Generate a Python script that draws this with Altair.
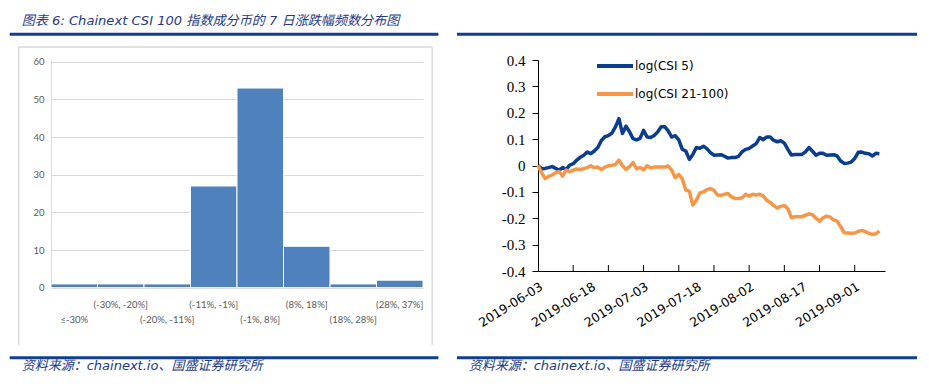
import altair as alt
import pandas as pd

# ---------------- data ----------------
hist_bins = ["≤-30%", "(-30%, -20%]", "(-20%, -11%]", "(-11%, -1%]",
             "(-1%, 8%]", "(8%, 18%]", "(18%, 28%]", "(28%, 37%]"]
hist_counts = [1, 1, 1, 27, 53, 11, 1, 2]
lower_row_bins = ["≤-30%", "(-20%, -11%]", "(-1%, 8%]", "(18%, 28%]"]
hist_ticks = [0, 10, 20, 30, 40, 50, 60]

line_start = "2019-06-03"
series_names = ["log(CSI 5)", "log(CSI 21-100)"]
series_colors = ["#0B3D8F", "#F79646"]
csi5 = [0.0, -0.012, -0.011, -0.008, -0.004, -0.011, -0.017, -0.008, -0.015, 0.001,
        0.007, 0.020, 0.031, 0.039, 0.051, 0.045, 0.055, 0.068, 0.095, 0.109,
        0.113, 0.123, 0.146, 0.178, 0.121, 0.149, 0.128, 0.102, 0.097, 0.103,
        0.133, 0.108, 0.106, 0.114, 0.127, 0.147, 0.147, 0.131, 0.108, 0.113,
        0.097, 0.061, 0.055, 0.023, 0.042, 0.068, 0.065, 0.073, 0.064, 0.049,
        0.039, 0.040, 0.041, 0.035, 0.028, 0.030, 0.030, 0.035, 0.052, 0.061,
        0.065, 0.074, 0.083, 0.106, 0.098, 0.108, 0.108, 0.095, 0.090, 0.094,
        0.085, 0.061, 0.040, 0.042, 0.042, 0.042, 0.052, 0.068, 0.054, 0.039,
        0.046, 0.046, 0.039, 0.040, 0.041, 0.036, 0.017, 0.008, 0.009, 0.013,
        0.027, 0.050, 0.051, 0.046, 0.045, 0.036, 0.046, 0.045]
csi21_100 = [0.0, -0.027, -0.049, -0.042, -0.036, -0.027, -0.023, -0.040, -0.017, -0.023,
             -0.018, -0.013, -0.015, -0.012, -0.008, -0.001, -0.008, -0.006, -0.015, -0.006,
             -0.001, 0.001, 0.004, 0.020, -0.001, -0.015, -0.004, 0.011, -0.012, -0.008,
             -0.016, -0.001, -0.009, -0.006, -0.006, -0.006, -0.006, -0.002, -0.018, -0.046,
             -0.034, -0.051, -0.094, -0.097, -0.150, -0.132, -0.104, -0.100, -0.092, -0.087,
             -0.094, -0.112, -0.113, -0.109, -0.106, -0.119, -0.125, -0.125, -0.122, -0.109,
             -0.116, -0.109, -0.112, -0.109, -0.116, -0.132, -0.140, -0.152, -0.161, -0.155,
             -0.152, -0.164, -0.198, -0.194, -0.194, -0.194, -0.188, -0.183, -0.187, -0.200,
             -0.211, -0.198, -0.192, -0.196, -0.206, -0.211, -0.232, -0.255, -0.256, -0.257,
             -0.256, -0.250, -0.246, -0.251, -0.257, -0.261, -0.259, -0.249]
y_ticks = [-0.4, -0.3, -0.2, -0.1, 0.0, 0.1, 0.2, 0.3, 0.4]
label_days = [0, 15, 30, 45, 60, 75, 90]
tick_days = [10, 20, 30, 40, 50, 60, 70, 80, 90]

title_text = "图表 6:  Chainext CSI 100 指数成分币的 7 日涨跌幅频数分布图"
source_text = "资料来源：chainext.io、国盛证券研究所"

# ---------------- style ----------------
NAVY = "#0D4093"
TEXT_NAVY = "#23398A"
CJK_FONT = "DejaVu Sans, Noto Sans CJK SC"
one = pd.DataFrame({"k": [0]})


def hrule(x1, x2, y, color=NAVY, width=3):
    return alt.Chart(one).mark_rule(color=color, strokeWidth=width).encode(
        x=alt.value(x1), x2=alt.value(x2), y=alt.value(y))


def vrule(x, y1, y2, color="#D9D9D9", width=1.5):
    return alt.Chart(one).mark_rule(color=color, strokeWidth=width).encode(
        x=alt.value(x), y=alt.value(y1), y2=alt.value(y2))


def label(x, y, s, size=13):
    return alt.Chart(one).mark_text(
        align="left", baseline="alphabetic", font=CJK_FONT, fontSize=size,
        fontStyle="italic", color=TEXT_NAVY).encode(
        x=alt.value(x), y=alt.value(y), text=alt.value(s))


# ---------------- left: histogram ----------------
LW, LH = 372, 227.7
hist_df = pd.DataFrame({"bin": hist_bins, "count": hist_counts})
lower_js = "[" + ",".join("'" + b + "'" for b in lower_row_bins) + "]"

bars = alt.Chart(hist_df).mark_bar(color="#4F81BD", stroke="white", strokeWidth=1).encode(
    x=alt.X("bin:N", sort=hist_bins, title=None,
            scale=alt.Scale(paddingInner=0, paddingOuter=0),
            axis=alt.Axis(labelAngle=0, ticks=False, domain=False, labelPadding=12,
                          labelFont="Lato", labelFontSize=9.5, labelColor="#595959",
                          labelOverlap=False, labelBaseline="top", labelLineHeight=14.5,
                          labelExpr="indexof(" + lower_js + ", datum.value) >= 0 ? ['', datum.value] : datum.value")),
    y=alt.Y("count:Q", title=None,
            scale=alt.Scale(domain=[0, 60.45], nice=False),
            axis=alt.Axis(values=hist_ticks, ticks=False, domainColor="#D9D9D9",
                          gridColor="#D9D9D9", labelFont="Lato", labelFontSize=9.5,
                          labelColor="#595959", labelPadding=7)),
)

left = alt.layer(
    hrule(-41, -40, -51, color="white", width=1),
    label(-29.3, -35, title_text, 13.1),
    hrule(-41.3, 387.4, -25.7),
    vrule(-32.3, -13, 285),
    vrule(381.2, -13, 285),
    hrule(-32.3, 381.2, -13, color="#D9D9D9", width=1.5),
    hrule(-41.3, 387.4, 297.8),
    label(-29.3, 310, source_text, 13),
    bars,
).properties(width=LW, height=LH)

# ---------------- right: line chart ----------------
RW, RH = 347, 211
dates = pd.date_range(line_start, periods=len(csi5), freq="D")
date_labels = [d.strftime("%Y-%m-%d") for d in dates]
rows = []
for name, vals in zip(series_names, [csi5, csi21_100]):
    for i, v in enumerate(vals):
        rows.append({"day": i, "date": date_labels[i], "value": v, "series": name})
line_df = pd.DataFrame(rows)

lab_js = "[" + ",".join("'" + date_labels[d] + "'" for d in label_days) + "]"
ylab_expr = ("abs(datum.value) < 1e-9 ? '0' : (datum.value < 0 ? '-' + format(-datum.value, '.1f')"
             " : format(datum.value, '.1f'))")

xscale = alt.Scale(domain=[0, 98.6], nice=False, zero=False)
lines = alt.Chart(line_df).mark_line(strokeWidth=3.5, strokeJoin="round").encode(
    x=alt.X("day:Q", title=None, scale=xscale,
            axis=alt.Axis(values=label_days, ticks=False, grid=False, domainColor="black",
                          labelExpr=lab_js + "[round(datum.value/15)]",
                          labelAngle=-32, labelAlign="right", labelBaseline="top",
                          labelPadding=9, labelFont="DejaVu Sans", labelFontSize=12.5,
                          labelColor="black", labelOverlap=False)),
    y=alt.Y("value:Q", title=None, scale=alt.Scale(domain=[-0.4, 0.4], nice=False),
            axis=alt.Axis(values=y_ticks, grid=False, domainColor="black", tickColor="black",
                          tickSize=6, labelFont="Times New Roman, Liberation Serif, serif",
                          labelFontSize=15, labelColor="black", labelPadding=7,
                          labelExpr=ylab_expr)),
    color=alt.Color("series:N", scale=alt.Scale(domain=series_names, range=series_colors),
                    legend=alt.Legend(orient="none", legendX=57, legendY=-14, title=None,
                                      symbolType="stroke", symbolSize=1296,
                                      symbolStrokeWidth=4, labelFont="DejaVu Sans",
                                      labelFontSize=12, labelColor="black", labelOffset=0,
                                      rowPadding=-15, padding=0)),
    order="day:Q",
)

xticks = alt.Chart(pd.DataFrame({"day": tick_days})).mark_rule(color="black", strokeWidth=1).encode(
    x=alt.X("day:Q", scale=xscale), y=alt.value(RH), y2=alt.value(RH - 6))

right = alt.layer(
    hrule(-81, 379, -25.7),
    hrule(-81, 379, 297.8),
    label(-69.3, 310, source_text, 13),
    xticks,
    lines,
).properties(width=RW, height=RH)

chart = (alt.hconcat(left, right, spacing=115, bounds="flush", padding=0)
         .resolve_legend(color="independent")
         .configure_view(stroke=None))

chart.save("out.html", embed_options={"renderer": "svg", "actions": False})
